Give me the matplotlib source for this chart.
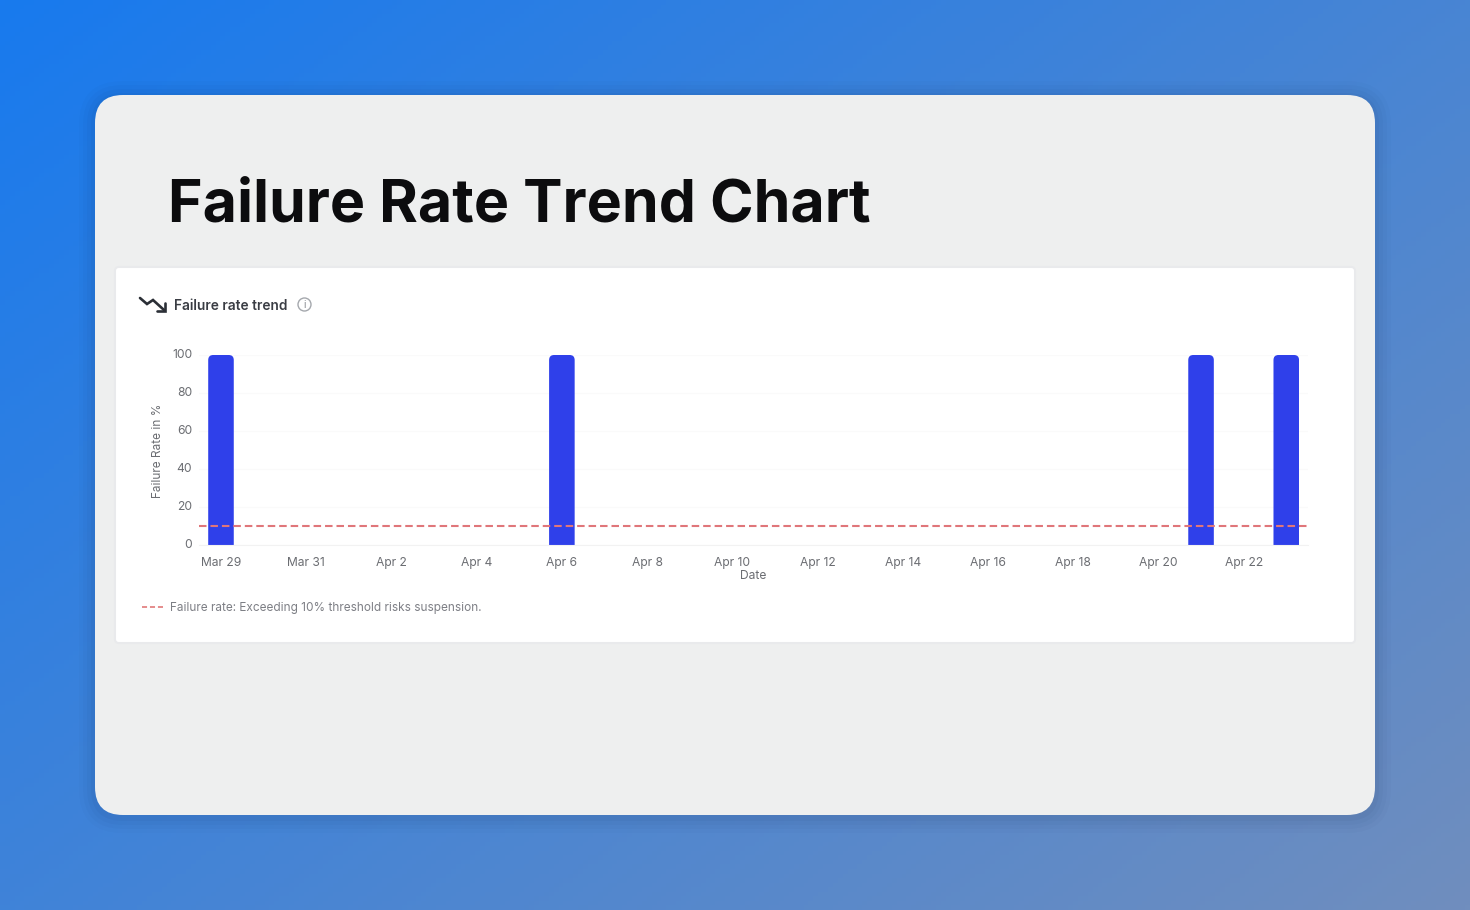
import numpy as np
import pandas as pd
import matplotlib
matplotlib.use("Agg")
import matplotlib.pyplot as plt
from matplotlib.patches import FancyBboxPatch, Circle
from matplotlib.transforms import IdentityTransform, ScaledTranslation

# chart data
dates = pd.date_range("2024-03-29", "2024-04-23", freq="D")
fail_dates = pd.to_datetime(["2024-03-29", "2024-04-06", "2024-04-21", "2024-04-23"])
fail_rates = [100, 100, 100, 100]
threshold = 10
y_ticks = [0, 20, 40, 60, 80, 100]
x_ticks = pd.date_range("2024-03-29", "2024-04-22", freq="2D")
x_labels = ["Mar 29", "Mar 31", "Apr 2", "Apr 4", "Apr 6", "Apr 8", "Apr 10",
            "Apr 12", "Apr 14", "Apr 16", "Apr 18", "Apr 20", "Apr 22"]

plt.rcParams["font.family"] = ["Inter", "DejaVu Sans"]
W, H = 1470, 910
fig = plt.figure(figsize=(W / 100, H / 100), dpi=100)

# pixel-coordinate layer for the background, card and header
bg = fig.add_axes([0, 0, 1, 1], zorder=0)
bg.axis("off")

# diagonal blue gradient
gx, gy = np.meshgrid(np.linspace(0, 1, 300), np.linspace(0, 1, 200))
t = (gx * 0.55 + gy * 0.45)[..., None]
c0 = np.array([24, 122, 238]) / 255
c1 = np.array([112, 142, 190]) / 255
bg.imshow(c0 * (1 - t) + c1 * t, extent=[0, W, H, 0], aspect="auto", zorder=0)
bg.set_xlim(0, W)
bg.set_ylim(H, 0)

# soft shadow under the card
for grow, alpha in [(16, 0.018), (12, 0.022), (8, 0.028), (4, 0.035)]:
    bg.add_patch(FancyBboxPatch((95, 97), 1280, 720, boxstyle=f"round,pad={grow},rounding_size={28 + grow}",
                                linewidth=0, facecolor="#102040", alpha=alpha, zorder=1))
bg.add_patch(FancyBboxPatch((95, 95), 1280, 720, boxstyle="round,pad=0,rounding_size=28",
                            linewidth=0, facecolor="#eeefef", zorder=2))
bg.add_patch(FancyBboxPatch((115, 267), 1240, 376, boxstyle="round,pad=0,rounding_size=4",
                            linewidth=1.5, edgecolor="#e9eaec", facecolor="white", zorder=3))

bg.text(168, 206, "Failure Rate Trend Chart", fontsize=42.5, fontweight="bold",
        color="#0c0c0e", va="center", ha="left", zorder=4)

# header of the inner panel
bg.plot([140, 147, 153, 164], [298, 304, 300, 310], color="#2b2f36", lw=1.9, zorder=4,
        solid_capstyle="round", solid_joinstyle="miter")
bg.plot([157, 165, 165], [311, 311, 303], color="#2b2f36", lw=1.9, zorder=4,
        solid_capstyle="round", solid_joinstyle="miter")
bg.text(174, 305.5, "Failure rate trend", fontsize=9.9, fontweight="semibold", color="#3a3d44",
        va="center", ha="left", zorder=4)
bg.add_patch(Circle((304.5, 304.5), 6.5, facecolor="none", edgecolor="#a5a8ad", lw=1.0, zorder=4))
bg.text(304.5, 305, "i", fontsize=7.5, color="#8a8d93", va="center", ha="center", zorder=4)

# legend line, drawn by hand as in the screenshot
bg.plot([142, 163], [607, 607], color="#e58c8c", lw=1.4, ls=(0, (2.6, 1.5)), zorder=4)
bg.text(170, 607.5, "Failure rate: Exceeding 10% threshold risks suspension.", fontsize=8.5,
        color="#7d7f85", va="center", ha="left", zorder=4)

# main chart axes
ax = fig.add_axes([199 / W, 1 - 545 / H, (1308 - 199) / W, (545 - 355) / H], zorder=5)
ax.patch.set_alpha(0)
bars = ax.bar(fail_dates, fail_rates, width=0.6, color="#2f40ea", zorder=2)
ax.axhline(threshold, color="#e0767a", lw=1.5, ls=(0, (3.6, 1.9)), zorder=3)

ax.set_xlim(dates[0] - pd.Timedelta(days=0.516), dates[-1] + pd.Timedelta(days=0.51))
ax.set_ylim(0, 100)
ax.set_xticks(x_ticks)
ax.set_xticklabels(x_labels)
ax.set_yticks(y_ticks)
ax.tick_params(axis="both", length=0, labelsize=8.7, labelcolor="#6b6d72")
ax.tick_params(axis="x", pad=8.3)
ax.tick_params(axis="y", pad=5)
for lab in ax.get_yticklabels():
    lab.set_transform(lab.get_transform() + ScaledTranslation(0, 1 / 100, fig.dpi_scale_trans))
ax.grid(axis="y", color="#fafafa", lw=1, zorder=0)
ax.set_axisbelow(True)
for side in ["top", "right", "left"]:
    ax.spines[side].set_visible(False)
ax.spines["bottom"].set_color("#f2f2f2")
ax.set_xlabel("Date", fontsize=8.7, color="#6b6d72")
ax.xaxis.set_label_coords(0.4995, -0.132)
ax.set_ylabel("Failure Rate in %", fontsize=8.5, color="#6b6d72")
ax.yaxis.set_label_coords(-0.032, 0.495)

# round the top corners of the bars
fig.canvas.draw()
for bar in bars:
    box = bar.get_window_extent()
    clip = FancyBboxPatch((box.x0, box.y0 - 10), box.width, box.height + 10,
                          boxstyle="round,pad=0,rounding_size=5", transform=IdentityTransform())
    bar.set_clip_path(clip)

fig.savefig("out.png", dpi=100)
